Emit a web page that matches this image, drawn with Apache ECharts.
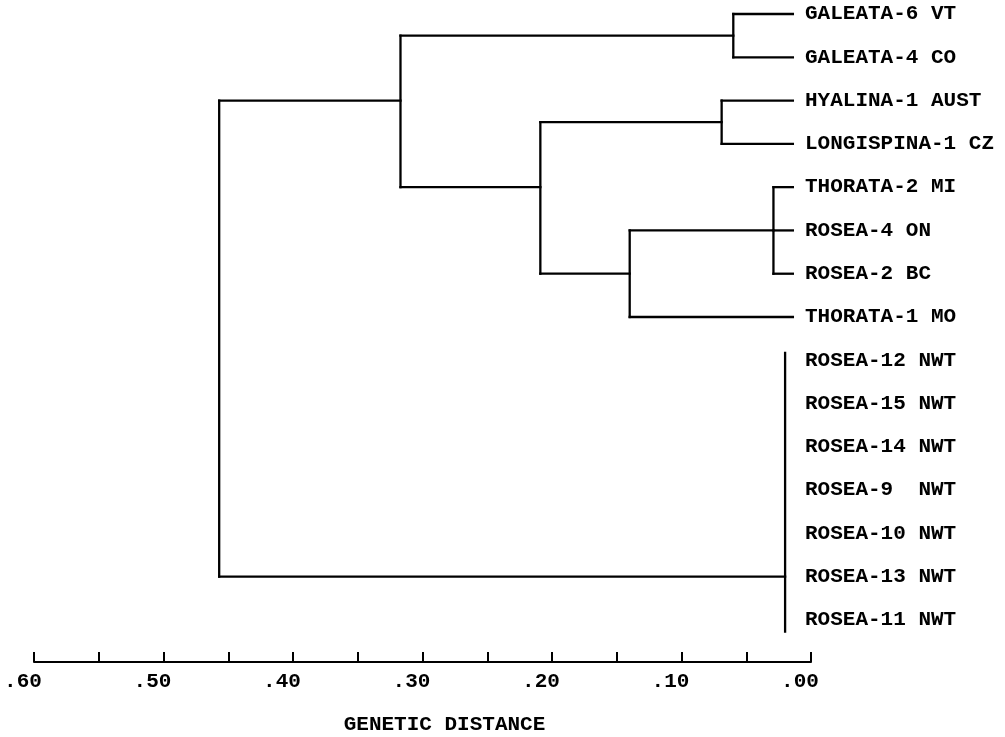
<!DOCTYPE html>
<html><head><meta charset="utf-8">
<script src="https://cdn.jsdelivr.net/npm/echarts@6/dist/echarts.min.js"></script>
<style>html,body{margin:0;padding:0;background:#fff}#c{width:1005px;height:737px}</style>
</head><body><div id="c"></div>
<script>
// ---- data ----
const leafNames = ['GALEATA-6 VT','GALEATA-4 CO','HYALINA-1 AUST','LONGISPINA-1 CZ','THORATA-2 MI','ROSEA-4 ON','ROSEA-2 BC','THORATA-1 MO','ROSEA-12 NWT','ROSEA-15 NWT','ROSEA-14 NWT','ROSEA-9  NWT','ROSEA-10 NWT','ROSEA-13 NWT','ROSEA-11 NWT'];
// internal nodes: children (numbers = leaf index, 'nK' = node K)
const nodeChildren = [[0,1],[2,3],[4,5,6],['n2',7],['n1','n3'],['n0','n4'],[8,9,10,11,12,13,14],['n5','n6']];
const nodeDistance = [0.060,0.069,0.029,0.140,0.209,0.317,0.020,0.457];
const nodeRow = [0.5,2.5,5,6,4,2,13,null];
const collapsedNodes = [6];          // identical genotypes: drawn as a bar only
const collapsedOverhang = [0.17,0.27]; // bar overhang above / below (rows)
const leafTip = 0.014;               // where leaf branches end
const tickValues = [0.6,0.5,0.4,0.3,0.2,0.1,0.0];
const tickLabels = ['.60','.50','.40','.30','.20','.10','.00'];
const axisTitle = 'GENETIC DISTANCE';

// ---- build segments [x1,y1,x2,y2] ----
const segs = [];
function childPos(c){
  if (typeof c === 'number') return null;
  const k = +c.slice(1);
  return [nodeDistance[k], nodeRow[k]];
}
nodeChildren.forEach((ch, i) => {
  const d = nodeDistance[i];
  const rows = ch.map(c => typeof c === 'number' ? c : nodeRow[+c.slice(1)]);
  const col = collapsedNodes.includes(i);
  const y1 = Math.min(...rows) - (col ? collapsedOverhang[0] : 0);
  const y2 = Math.max(...rows) + (col ? collapsedOverhang[1] : 0);
  segs.push([d, y1, d, y2]);
  ch.forEach((c, j) => {
    const p = childPos(c);
    if (p) segs.push([d, p[1], p[0], p[1]]);
    else if (!col) segs.push([d, rows[j], leafTip, rows[j]]);
  });
});

const FONT = "'Liberation Mono','Courier New',monospace";
const chart = echarts.init(document.getElementById('c'), null, {renderer:'canvas'});
chart.setOption({
  animation:false,
  backgroundColor:'#fff',
  grid:{left:34, right:194, top:14, bottom:117, containLabel:false, outerBoundsMode:'none'},
  xAxis:{
    type:'value', min:0, max:0.6, interval:0.05, inverse:true, position:'bottom', offset:42,
    axisLine:{show:true, onZero:false, lineStyle:{color:'#000', width:2}},
    axisTick:{show:true, inside:true, length:10, lineStyle:{color:'#000', width:2}},
    splitLine:{show:false},
    axisLabel:{margin:9, color:'#000', fontFamily:FONT, fontWeight:'bold', fontSize:21,
      padding:[0,22,0,0], showMinLabel:true, showMaxLabel:true,
      formatter:v => { const i = tickValues.findIndex(t => Math.abs(t - v) < 1e-6); return i >= 0 ? tickLabels[i] : ''; }},
    name:axisTitle, nameLocation:'middle', nameGap:52,
    nameTextStyle:{color:'#000', fontFamily:FONT, fontWeight:'bold', fontSize:21, padding:[0,0,0,44]}
  },
  yAxis:{
    type:'value', min:0, max:leafNames.length-1, interval:1, inverse:true, position:'right',
    axisLine:{show:false}, axisTick:{show:false}, splitLine:{show:false},
    axisLabel:{margin:-6, color:'#000', fontFamily:FONT, fontWeight:'bold', fontSize:21,
      formatter:v => leafNames[Math.round(v)] || ''}
  },
  series:[{
    type:'custom', data:segs, encode:{x:[0,2], y:[1,3]}, clip:false,
    renderItem:(params, api) => {
      const p1 = api.coord([api.value(0), api.value(1)]);
      const p2 = api.coord([api.value(2), api.value(3)]);
      return {type:'line', shape:{x1:p1[0], y1:p1[1], x2:p2[0], y2:p2[1]},
        style:{stroke:'#000', lineWidth:2.3, lineCap:'square'}};
    }
  }]
});
</script></body></html>
